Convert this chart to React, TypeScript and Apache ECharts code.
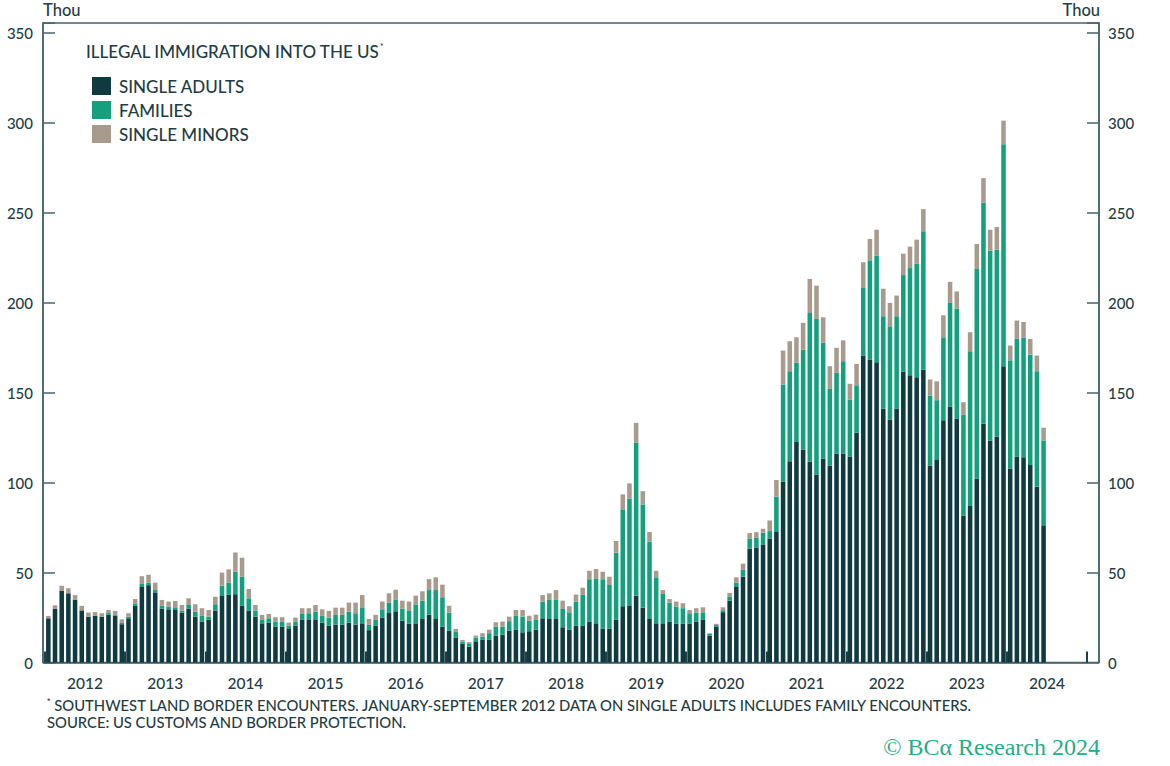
import React, { useEffect, useRef } from "react";
import * as echarts from "echarts";

const YEARS = ["2012","2013","2014","2015","2016","2017","2018","2019","2020","2021","2022","2023","2024"];
const MONTHS: string[] = [];
YEARS.forEach((y) => { for (let m = 1; m <= 12; m++) MONTHS.push(`${y}-${m < 10 ? "0" + m : m}`); });

// Thousands, monthly from Jan 2012 to Jun 2024
const SINGLE_ADULTS = [
  24.6,30,40,38.5,35,29,25.5,26,25.5,26.5,26,21.3,
  24.6,31.5,42,43,39,30,29.6,29.2,27.7,30,25.5,22.8,
  23.7,28.9,37,37.6,38,31.5,28.7,25.5,21.8,22.2,20,20,
  19,20.4,23.7,24,24,22.2,20.4,21,21,22.2,21,21.8,
  18,20.4,25,27.5,28.5,23.3,21.5,21.8,24.2,26.6,24.2,20,
  17.8,13.7,10.4,8.9,11.8,12.6,12.6,15,15.5,17.8,18.1,16.8,
  17.4,18.3,24.6,24.2,24.2,19.6,18.3,20.4,20.4,22.8,21.8,18.7,
  18.7,23.7,31.3,31.8,37.2,30.5,24.2,21.8,21.8,22.8,21.5,21.5,
  21.5,22.8,23.7,15,20,28,34.4,42,47.8,63.3,64,65.7,
  69,72.6,100.5,112,122.6,118.5,111.7,104.6,113.5,109.6,116.1,116.1,
  114.4,127.8,170.7,168.5,167,141.1,135.2,141.1,161.7,159.8,158.7,162.9,
  109.6,112.6,134.8,142.2,135.7,81.8,87,102.4,132.8,123.5,125.6,164.8,
  107.9,114.4,114.2,109.8,97.8,76.4
];
const FAMILIES = [
  0,0,0,0,0,0,0,0,0,1,0.8,0.7,
  0.9,1.4,1.7,1.4,1.3,1.5,1.5,1.5,1.2,2,2.8,3.1,
  1.8,3.5,5.7,6.8,12.5,16.2,7,3.4,2.2,2.4,2.8,2.8,
  1.4,2.4,3.3,3.4,4.3,3.7,4.6,5.5,5.5,6.1,6.4,8.9,
  2.9,3.3,4.6,5.8,6.6,6.7,7.5,10.2,10.2,13.7,16.1,16.3,
  9.9,3.3,1.3,1.8,2.1,1.8,3.7,5,4.5,5.2,7.8,8.7,
  5.9,5.7,9.3,10.6,10.6,10.2,9.6,13.5,17.2,23.5,25,27.6,
  24.4,37.4,53.9,59.3,85,57.4,43,25.6,16.3,10.5,9.6,8.7,
  5.9,5,4.2,0.9,0.9,1.1,2.4,2.4,3.7,5.7,5.5,6.5,
  4.1,19.6,54.1,50,44.1,55.5,82.7,86.5,64.3,42.6,45,51.5,
  31.9,26.4,37.6,55.2,59.4,51.5,51.8,51.5,53.8,59.6,63.1,76.9,
  38.9,33.3,46.1,58.1,61.1,56.1,86.1,116.5,123.1,105.7,104,123.5,
  60.2,65.6,66.4,61.5,64.2,47.1
];
const SINGLE_MINORS = [
  1.3,1.8,2.7,2.8,2.5,2.5,2.3,2,1.9,1.7,1.9,2,
  1.9,2.4,4.3,4.4,4.1,3.3,2.8,3.5,3.1,3.7,4.1,4.3,
  3.7,4.2,7.3,7.4,10.7,10.6,5.2,3.1,2.5,2.4,2.4,2.4,
  1.8,2.2,3.2,2.8,3.7,3.7,3.7,4,4,5,5.9,6.8,
  3.3,2.8,4.3,5.2,5.4,4.4,4.9,5.2,5.2,6.1,7.1,7,
  3.9,1.7,0.9,0.6,1.1,1.9,2,2.4,2.8,2.5,3.3,3.7,
  2.7,2.6,3.6,3.7,5.5,4.6,3.4,3.9,4,4.7,5.2,4.2,
  4.6,6.5,8.3,8.5,11.1,7.4,5.4,3.6,2.2,2,2.8,2.8,
  1.8,2.4,2.8,0.4,0.6,1.6,1.9,3,3.5,3,3,2.2,
  5.9,9.3,18.9,16.7,14.2,14.9,18.9,18.5,14.2,12.6,13.9,11.6,
  8.7,11.9,14.3,11.9,14.3,15.3,13,11.5,11.9,11.9,13.4,12.4,
  8.9,10.5,12.2,11.4,9.6,6.9,10.6,13.9,13.5,11.5,12.6,13.1,
  8.2,10.2,8.8,8.7,8.7,7.1
];
const Y_TICKS_STEP = 50;

const C_DARK = "#0f3a40";
const C_GREEN = "#14a07c";
const C_TAN = "#a89b8d";
const C_AXIS = "#46636a";
const C_TEXT = "#1f3d43";
const FONT = "Lato, 'Open Sans', sans-serif";

export default function App() {
  const ref = useRef<HTMLDivElement>(null);
  useEffect(() => {
    if (!ref.current) return;
    const chart = echarts.init(ref.current, null, { renderer: "svg" });
    const yMax = 355.7;
    const yCommon = {
      min: 0,
      max: yMax,
      interval: Y_TICKS_STEP,
      splitLine: { show: false },
    };
    const yLabel = (margin: number) => ({
      fontFamily: FONT, fontSize: 15, fontWeight: 500, color: C_TEXT, margin,
      formatter: (v: number) => (Math.abs(v % Y_TICKS_STEP) < 1e-6 ? String(v) : ""),
    });
    chart.setOption({
      animation: false,
      backgroundColor: "#ffffff",
      textStyle: { fontFamily: FONT },
      title: {
        text: "ILLEGAL IMMIGRATION INTO THE US{sup|*}",
        left: 86,
        top: 42,
        padding: 0,
        textStyle: {
          fontFamily: FONT,
          fontSize: 17,
          fontWeight: 500,
          color: C_TEXT,
          lineHeight: 18,
          rich: { sup: { fontSize: 9, verticalAlign: "top", color: C_TEXT, lineHeight: 10, padding: [0, 0, 8, 0] } },
        },
      },
      legend: {
        orient: "vertical",
        left: 92,
        top: 77,
        padding: 0,
        itemWidth: 19,
        itemHeight: 18,
        itemGap: 6,
        icon: "rect",
        textStyle: { fontFamily: FONT, fontSize: 17, fontWeight: 500, color: C_TEXT, lineHeight: 18, padding: [0, 0, 0, 3] },
        data: ["SINGLE ADULTS", "FAMILIES", "SINGLE MINORS"],
      },
      grid: [
        { left: 43, right: 71, top: 23, bottom: 103.5, show: true, borderColor: C_AXIS, borderWidth: 1.5, backgroundColor: "transparent" },
        { left: 45, right: 83, top: 23, bottom: 103.5 },
      ],
      xAxis: [
        { gridIndex: 0, type: "value", min: 0, max: 1, show: false },
        {
          gridIndex: 1,
          type: "category",
          data: MONTHS,
          boundaryGap: true,
          axisLine: { show: true, lineStyle: { color: C_AXIS, width: 1.5 } },
          axisTick: {
            show: true,
            inside: true,
            length: 11,
            interval: (i: number) => i % 12 === 0,
            lineStyle: { color: "#1f4046", width: 2 },
          },
          axisLabel: { show: false },
        },
        {
          gridIndex: 1,
          type: "category",
          data: YEARS,
          position: "bottom",
          axisLine: { show: false },
          axisTick: { show: false },
          axisLabel: { show: true, interval: 0, fontFamily: FONT, fontSize: 15.5, fontWeight: 500, color: C_TEXT, margin: 12 },
        },
      ],
      yAxis: [
        {
          gridIndex: 0,
          type: "value",
          position: "left",
          ...yCommon,
          axisLine: { show: true, lineStyle: { color: C_AXIS, width: 1.5 } },
          axisTick: { show: true, inside: true, length: 12, lineStyle: { color: C_AXIS, width: 1.5 } },
          axisLabel: yLabel(10),
        },
        {
          gridIndex: 0,
          type: "value",
          position: "right",
          ...yCommon,
          axisLine: { show: true, lineStyle: { color: C_AXIS, width: 1.5 } },
          axisTick: { show: true, inside: true, length: 12, lineStyle: { color: C_AXIS, width: 1.5 } },
          axisLabel: yLabel(9),
        },
        { gridIndex: 1, type: "value", ...yCommon, show: false },
      ],
      series: [
        { name: "SINGLE ADULTS", type: "bar", stack: "total", xAxisIndex: 1, yAxisIndex: 2, data: SINGLE_ADULTS, itemStyle: { color: C_DARK }, barCategoryGap: "32%" },
        { name: "FAMILIES", type: "bar", stack: "total", xAxisIndex: 1, yAxisIndex: 2, data: FAMILIES, itemStyle: { color: C_GREEN }, barCategoryGap: "32%" },
        { name: "SINGLE MINORS", type: "bar", stack: "total", xAxisIndex: 1, yAxisIndex: 2, data: SINGLE_MINORS, itemStyle: { color: C_TAN }, barCategoryGap: "32%" },
      ],
      graphic: [
        { type: "text", left: 43, top: 1, style: { text: "Thou", fontFamily: FONT, fontSize: 16.5, fontWeight: 500, fill: C_TEXT } },
        { type: "text", right: 70, top: 1, style: { text: "Thou", fontFamily: FONT, fontSize: 16.5, fontWeight: 500, fill: C_TEXT } },
        {
          type: "text", left: 47, top: 696,
          style: {
            text: "{s|*} SOUTHWEST LAND BORDER ENCOUNTERS. JANUARY-SEPTEMBER 2012 DATA ON SINGLE ADULTS INCLUDES FAMILY ENCOUNTERS.\nSOURCE: US CUSTOMS AND BORDER PROTECTION.",
            fontFamily: FONT, fontSize: 14.8, fontWeight: 500, fill: C_TEXT, lineHeight: 17,
            rich: { s: { fontSize: 9, verticalAlign: "top", padding: [0, 0, 6, 0], fill: C_TEXT } },
          },
        },
        {
          type: "text", right: 70, top: 735,
          style: { text: "© BCα Research 2024", fontFamily: "'Liberation Serif', 'DejaVu Serif', serif", fontSize: 24, fill: "#26ad88" },
        },
      ],
    });
    return () => chart.dispose();
  }, []);
  return <div ref={ref} style={{ position: "fixed", left: 0, top: 0, width: 1170, height: 766, background: "#fff" }} />;
}
